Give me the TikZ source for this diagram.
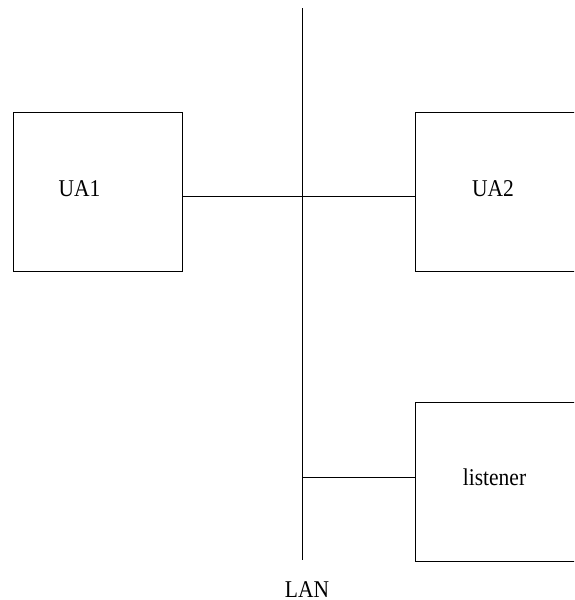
\documentclass[tikz,border=0pt]{standalone}
\usepackage{fontspec}
\setmainfont{Liberation Serif}
\newcommand{\txt}[1]{\scalebox{1}[1.12]{#1}}
\begin{document}
\begin{tikzpicture}[x=1pt,y=-1pt,
  box/.style={draw,line width=0.8pt,minimum width=169pt,minimum height=159pt,inner sep=0pt,anchor=north west},
  lbl/.style={font=\fontsize{21.5}{24}\selectfont,inner sep=0pt},
  wire/.style={line width=0.8pt}]
\useasboundingbox (0,0) rectangle (574,600);
\clip (0,0) rectangle (574,600);
\node[box] (ua1) at (12.5,111.7) {};
\node[box] (ua2) at (415.3,111.7) {};
\node[box] (lis) at (415.3,401.7) {};
\node[lbl] (t1) at (79.5,188.5) {\txt{UA1}};
\node[lbl] (t2) at (493,188.5) {\txt{UA2}};
\node[lbl] (t3) at (494.5,477.5) {\txt{listener}};
\node[lbl] (lan) at (307,589.5) {\txt{LAN}};
\coordinate (top) at (302.3,8);
\coordinate (bot) at (302.3,560);
\coordinate (j) at (302.3,477);
\draw[wire] (top) -- (bot);
\draw[wire] (ua1.east |- 0,196) -- (ua2.west |- 0,196);
\draw[wire] (j) -- (lis.west |- j);
\end{tikzpicture}
\end{document}
